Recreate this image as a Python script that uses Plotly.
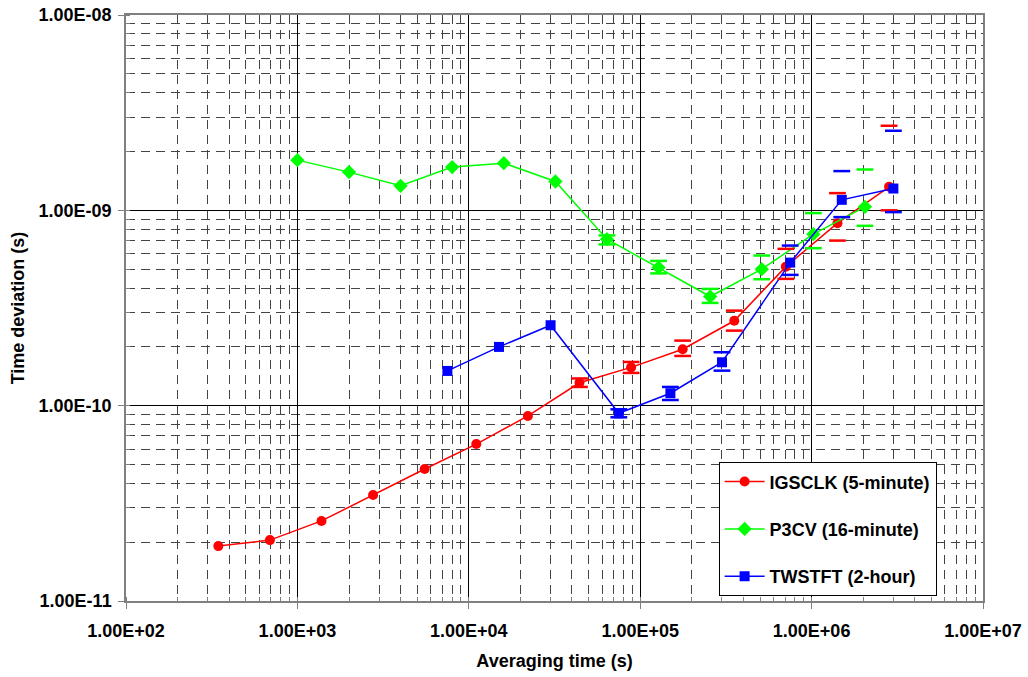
import plotly.graph_objects as go

# ---- data ----
igs_tau = [345.6, 691.2, 1382.4, 2764.8, 5529.6, 11059.2, 22118.4, 44236.8,
           88473.6, 176947.2, 353894.4, 707788.8, 1415577.6, 2831155.2]
igs_dev = [1.91e-11, 2.05e-11, 2.57e-11, 3.49e-11, 4.74e-11, 6.36e-11, 8.86e-11,
           1.31e-10, 1.57e-10, 1.945e-10, 2.72e-10, 5.15e-10, 8.60e-10, 1.32e-9]
igs_up = [None, None, None, None, None, None, None,
          1.378e-10, 1.674e-10, 2.153e-10, 3.066e-10, 6.35e-10, 1.225e-9, 2.71e-9]
igs_lo = [None, None, None, None, None, None, None,
          1.247e-10, 1.471e-10, 1.797e-10, 2.422e-10, 4.458e-10, 7.0e-10, 1.0e-9]

p3_tau = [1000, 2000, 4000, 8000, 16000, 32000, 64000, 128000, 256000, 512000,
          1024000, 2048000]
p3_dev = [1.807e-9, 1.569e-9, 1.335e-9, 1.665e-9, 1.744e-9, 1.405e-9, 7.12e-10,
          5.09e-10, 3.62e-10, 5.0e-10, 7.55e-10, 1.042e-9]
p3_up = [None, None, None, None, None, None, 7.44e-10, 5.51e-10, 3.96e-10,
         5.87e-10, 9.68e-10, 1.618e-9]
p3_lo = [None, None, None, None, None, None, 6.69e-10, 4.755e-10, 3.358e-10,
         4.44e-10, 6.4e-10, 8.33e-10]

tw_tau = [7500, 15000, 30000, 75000, 150000, 300000, 750000, 1500000, 3000000]
tw_dev = [1.506e-10, 1.999e-10, 2.581e-10, 9.14e-11, 1.158e-10, 1.668e-10,
          5.40e-10, 1.132e-9, 1.293e-9]
tw_up = [None, None, None, 9.58e-11, 1.247e-10, 1.877e-10, 6.6e-10, 1.588e-9, 2.555e-9]
tw_lo = [None, None, None, 8.72e-11, 1.069e-10, 1.511e-10, 4.672e-10, 9.23e-10, 9.79e-10]

x_ticks = [1e2, 1e3, 1e4, 1e5, 1e6, 1e7]
x_labels = ["1.00E+02", "1.00E+03", "1.00E+04", "1.00E+05", "1.00E+06", "1.00E+07"]
y_ticks = [1e-11, 1e-10, 1e-9, 1e-8]
y_labels = ["1.00E-11", "1.00E-10", "1.00E-09", "1.00E-08"]

series = [
    ("IGSCLK (5-minute)", igs_tau, igs_dev, igs_up, igs_lo, "#ff0000", "circle", 10),
    ("P3CV (16-minute)", p3_tau, p3_dev, p3_up, p3_lo, "#00ff00", "diamond", 11),
    ("TWSTFT (2-hour)", tw_tau, tw_dev, tw_up, tw_lo, "#0000ff", "square", 10),
]

FONT = "Liberation Sans, Arial, sans-serif"

fig = go.Figure()
for i, (name, tau, dev, up, lo, col, sym, sz) in enumerate(series):
    fig.add_trace(go.Scatter(
        x=tau, y=dev, name=name, mode="lines+markers",
        line=dict(color=col, width=1.5),
        marker=dict(symbol=sym, size=sz, color=col),
        legendgroup=f"g{i}",
    ))
for i, (name, tau, dev, up, lo, col, sym, sz) in enumerate(series):
    for bound in (up, lo):
        fig.add_trace(go.Scatter(
            x=tau, y=bound, mode="markers", showlegend=False, hoverinfo="skip",
            marker=dict(symbol="line-ew", size=12, color=col,
                        line=dict(color=col, width=2.5)),
            legendgroup=f"g{i}",
        ))

axis_common = dict(
    type="log", automargin=False, ticklabeloverflow="allow",
    showline=True, linecolor="#808080", linewidth=1.5, mirror=True,
    showgrid=True, gridcolor="#000000", gridwidth=1,
    ticks="outside", ticklen=6, tickcolor="#808080", tickwidth=1,
    tickfont=dict(family=FONT, size=18, color="#000000", weight="bold"),
    zeroline=False,
    minor=dict(dtick="D1", showgrid=True, gridcolor="#444444", gridwidth=1,
               griddash="9px,6px", ticks="inside", ticklen=4,
               tickcolor="#808080"),
)

fig.update_xaxes(**axis_common, range=[2, 7], tickmode="array",
                 tickvals=x_ticks, ticktext=x_labels, ticklabelstandoff=7,
                 title=dict(text="Averaging time (s)", standoff=14,
                            font=dict(family=FONT, size=18, color="#000000", weight="bold")))
fig.update_yaxes(**axis_common, range=[-11, -8], tickmode="array",
                 tickvals=y_ticks, ticktext=y_labels, ticklabelstandoff=3,
                 title=dict(text="Time deviation (s)", standoff=9,
                            font=dict(family=FONT, size=18, color="#000000", weight="bold")))

fig.update_layout(
    width=1028, height=677,
    margin=dict(l=126, r=44.5, t=15, b=76),
    paper_bgcolor="white", plot_bgcolor="white",
    font=dict(family=FONT, color="#000000"),
    legend=dict(x=0.6915, y=0.2367, xanchor="left", yanchor="top",
                bgcolor="white", bordercolor="#000000", borderwidth=1,
                font=dict(family=FONT, size=18, color="#000000", weight="bold"),
                tracegroupgap=21, itemwidth=40),
    showlegend=True,
)

# remove the browser's default 8px page margin so the figure fills the window
fig.write_html("out.html", config={"displayModeBar": False},
               post_script="document.body.style.margin='0';")
